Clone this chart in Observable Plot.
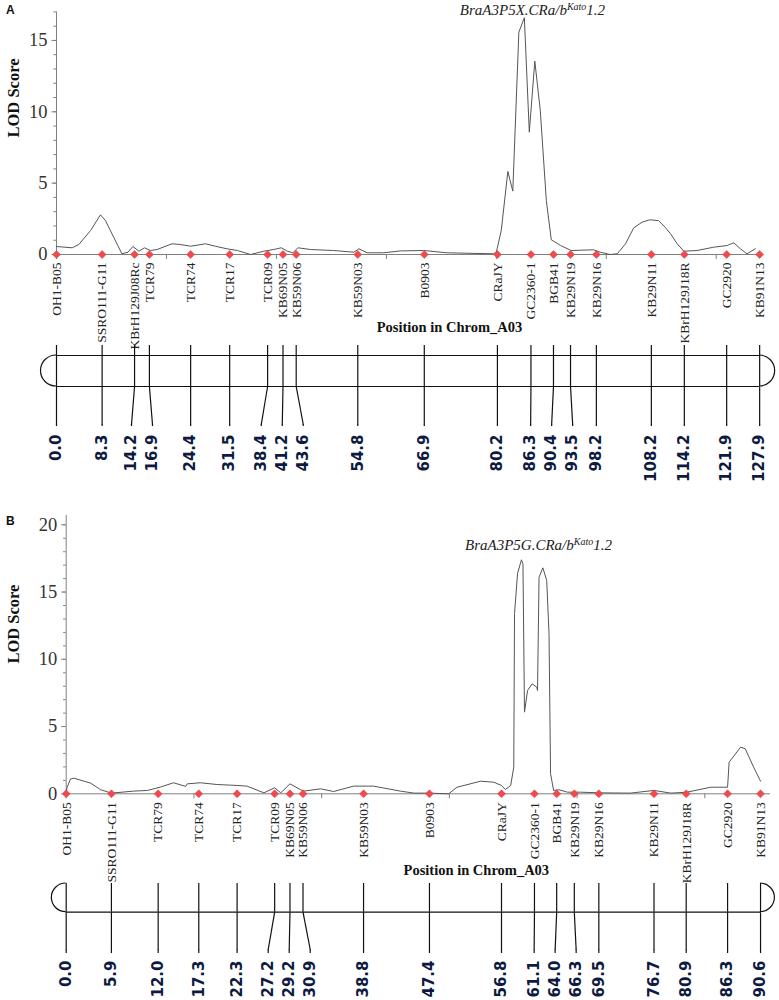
<!DOCTYPE html>
<html><head><meta charset="utf-8">
<script src="https://cdn.jsdelivr.net/npm/d3@7"></script>
<script src="https://cdn.jsdelivr.net/npm/@observablehq/plot@0.6"></script>
<style>
body{margin:0;background:#fff;}
#fig{position:relative;width:779px;height:1000px;overflow:hidden;background:#fff;}
.part{position:absolute;left:0;}
.plab{position:absolute;font:bold 12px/12px "Liberation Sans",Arial,sans-serif;color:#111;}
</style></head><body><div id="fig"></div>
<script>
// ---------------- DATA ----------------
const markersA = ["OH1-B05","SSRO111-G11","KBrH129J08Rc","TCR79","TCR74","TCR17","TCR09","KB69N05","KB59N06","KB59N03","B0903","CRaJY","GC2360-1","BGB41","KB29N19","KB29N16","KB29N11","KBrH129J18R","GC2920","KB91N13"];
const posA = [0.0,8.3,14.2,16.9,24.4,31.5,38.4,41.2,43.6,54.8,66.9,80.2,86.3,90.4,93.5,98.2,108.2,114.2,121.9,127.9];
const cmA = [0,2.85,4.06,6.2,8.0,8.9,10.4,11.9,13.0,13.9,15.0,16.0,17.1,18.3,21.0,22.5,24.4,27.1,28.9,31.0,32.9,35.3,37.7,39.5,40.9,42.0,43.0,43.9,46.2,50.4,54.1,55.0,56.5,59.5,62.6,66.8,71.0,79.5,80.0,80.9,82.1,83.0,84.1,85.1,86.0,87.0,88.0,89.1,90.0,91.7,93.6,97.7,98.9,100.7,102.0,103.5,105.0,106.5,107.9,109.5,110.7,111.7,112.9,114.1,116.5,119.5,122.0,123.2,124.4,125.6,127.1];
const lodA = [0.56,0.47,0.7,1.68,2.78,2.38,1.21,0.05,0.16,0.56,0.23,0.47,0.28,0.35,0.75,0.7,0.58,0.75,0.58,0.4,0.28,0.0,0.23,0.35,0.47,0.23,0.12,0.47,0.35,0.28,0.16,0.4,0.12,0.12,0.25,0.28,0.12,0.05,0.16,1.68,5.82,4.44,15.58,16.59,8.57,13.55,10.09,3.78,1.03,0.63,0.28,0.33,0.16,0.0,0.05,0.75,1.87,2.26,2.43,2.38,1.91,1.45,0.75,0.23,0.28,0.51,0.63,0.82,0.4,0.05,0.4];
const titleA = ["BraA3P5X.CRa/b","Kato","1.2"];
const yTicksA = [0,5,10,15];

const markersB = ["OH1-B05","SSRO111-G11","TCR79","TCR74","TCR17","TCR09","KB69N05","KB59N06","KB59N03","B0903","CRaJY","GC2360-1","BGB41","KB29N19","KB29N16","KB29N11","KBrH129J18R","GC2920","KB91N13"];
const posB = [0.0,5.9,12.0,17.3,22.3,27.2,29.2,30.9,38.8,47.4,56.8,61.1,64.0,66.3,69.5,76.7,80.9,86.3,90.6];
const cmB = [0,0.1,0.56,1.0,3.2,4.5,5.9,8.8,10.6,12.3,14.0,15.6,15.8,17.5,19.7,22.3,23.6,25.8,27.2,28.0,29.2,30.6,31.0,33.2,34.9,37.5,40.1,43.6,45.4,47.4,49.9,51.0,54.1,55.8,56.8,57.3,58.0,58.4,58.5,58.9,59.4,59.6,59.8,60.2,60.8,61.4,61.5,61.7,62.2,62.7,63.0,63.2,63.6,64.3,65.4,67.1,69.7,73.6,76.7,78.9,81.0,84.1,86.3,86.5,88.0,88.6,89.7,90.6];
const lodB = [0.0,0.45,1.1,1.16,0.79,0.3,0.05,0.2,0.25,0.5,0.82,0.55,0.74,0.82,0.69,0.62,0.57,0.07,0.45,0.07,0.74,0.3,0.2,0.37,0.17,0.57,0.57,0.2,0.05,0.05,0.0,0.49,0.94,0.86,0.62,0.32,0.62,1.98,13.4,16.4,17.4,17.1,6.07,7.68,8.18,7.93,7.68,16.1,16.8,15.86,11.9,1.49,0.25,0.3,0.12,0.12,0.07,0.05,0.25,0.05,0.12,0.49,0.49,2.35,3.47,3.35,1.98,0.94];
const titleB = ["BraA3P5G.CRa/b","Kato","1.2"];
const yTicksB = [0,5,10,15,20];

const axisTitle = "Position in Chrom_A03";
const yTitle = "LOD Score";

// ---------------- STYLE / LAYOUT ----------------
const AX = "#808080", CURVE = "#555", RED = "#ef4a4f", INK = "#111";
const SERIF = '"Liberation Serif","Times New Roman",serif';
const SANS = '"DejaVu Sans",Verdana,sans-serif';
const W = 779;

const panels = [
  {id:"A", markers:markersA, pos:posA, cm:cmA, lod:lodA, title:titleA, yTicks:yTicksA,
   top:0, lodH:340, y0:254, mt:11.4, yMax:17, ml:56, mr:16, xMax:128.6, xTicks:d3.range(0,128,20),
   nameDy:8, posDx:39.5, posDy:73, lodDx:-43, lodDy:4.3, titleIdx:12, titleY:16.8, titleDx:1.5, labTop:3.8,
   chTop:340, chH:160, lineTop:5, boxTop:15, boxBottom:46, lineEnd:86, bend:84, labelY:94, drawBoxTop:true},
  {id:"B", markers:markersB, pos:posB, cm:cmB, lod:lodB, title:titleB, yTicks:yTicksB,
   top:500, lodH:380, y0:293.3, mt:14.9, yMax:20.7, ml:65.7, mr:9, xMax:91.9, xTicks:[0,50/3,100/3,50,200/3,250/3],
   nameDy:8.4, posDx:58, posDy:76.7, lodDx:-52.7, lodDy:9, titleIdx:11, titleY:18.16, titleDx:4, labTop:515,
   chTop:880, chH:120, lineTop:3, boxTop:3, boxBottom:31.7, lineEnd:73, bend:69, labelY:80, drawBoxTop:false}
];

// spread label positions so that neighbours are at least `gap` apart (in data units)
function spread(pos, gap) {
  let cl = pos.map((p) => ({items:[p]}));
  const place = (c) => {
    const m = d3.mean(c.items), n = c.items.length;
    return c.items.map((_, j) => m + (j - (n - 1) / 2) * gap);
  };
  let merged = true;
  while (merged) {
    merged = false;
    for (let i = 0; i < cl.length - 1; i++) {
      const a = place(cl[i]), b = place(cl[i + 1]);
      if (b[0] - a[a.length - 1] < gap - 1e-9) {
        cl.splice(i, 2, {items: cl[i].items.concat(cl[i + 1].items)});
        merged = true; break;
      }
    }
  }
  return cl.flatMap(place);
}

const fig = document.getElementById("fig");
const NS = "http://www.w3.org/2000/svg";

for (const p of panels) {
  const curve = p.cm.map((x, i) => ({x, y: p.lod[i]}));
  const mk = p.markers.map((name, i) => ({name, pos: p.pos[i]}));
  const k = (W - p.ml - p.mr) / p.xMax;
  const lp = spread(p.pos, 21 / k);
  mk.forEach((d, i) => d.labelPos = lp[i]);
  const titleText = p.title.join("");

  const lodSvg = Plot.plot({
    width: W, height: p.lodH,
    marginLeft: p.ml, marginRight: p.mr, marginTop: p.mt, marginBottom: p.lodH - p.y0,
    x: {domain: [0, p.xMax]},
    y: {domain: [0, p.yMax]},
    style: {background: "transparent", overflow: "visible"},
    marks: [
      Plot.ruleX([0], {y1: 0, y2: p.yMax, stroke: AX}),
      Plot.axisY({ticks: d3.range(0, Math.floor(p.yMax) + 1), tickSize: 2.6, tickFormat: () => "", stroke: AX, label: null}),
      Plot.axisY({ticks: p.yTicks, tickSize: 4.5, tickFormat: () => "", stroke: AX, label: null}),
      Plot.text(p.yTicks, {frameAnchor: "left", y: (d) => d, text: (d) => String(d), dx: -9, textAnchor: "end", fontFamily: SERIF, fontSize: 18.5, fill: "#333"}),
      Plot.ruleY([0], {x1: 0, x2: p.xMax, stroke: AX}),
      Plot.axisX({ticks: p.xTicks, tickSize: 5, tickFormat: () => "", stroke: AX, label: null}),
      Plot.line(curve, {x: "x", y: "y", stroke: CURVE, strokeWidth: 1}),
      Plot.dot(mk, {x: "pos", y: () => 0, symbol: "diamond2", r: 3.6, fill: RED, stroke: "#e03a40", strokeWidth: 0.5}),
      Plot.text(mk, {x: "pos", y: () => 0, text: "name", rotate: -90, textAnchor: "end", dy: p.nameDy, fontFamily: SERIF, fontSize: 13.5, fill: "#222"}),
      Plot.text([axisTitle], {frameAnchor: "bottom", text: (d) => d, dx: p.posDx, dy: p.posDy, fontFamily: SERIF, fontWeight: "bold", fontSize: 14.5, fill: "#111", lineAnchor: "middle"}),
      Plot.text([yTitle], {frameAnchor: "left", text: (d) => d, rotate: -90, dx: p.lodDx, dy: p.lodDy, fontFamily: SERIF, fontWeight: "bold", fontSize: 16.5, fill: "#111"}),
      Plot.text([titleText], {x: () => p.pos[p.titleIdx], y: () => p.titleY, text: (d) => d, dx: p.titleDx, lineAnchor: "bottom", fontFamily: SERIF, fontStyle: "italic", fontSize: 15, fill: "#222"})
    ]
  });
  // superscript for the QTL name
  lodSvg.querySelectorAll("text").forEach((t) => {
    if (t.textContent === titleText) {
      t.textContent = "";
      const a = document.createElementNS(NS, "tspan"); a.textContent = p.title[0];
      const s = document.createElementNS(NS, "tspan"); s.textContent = p.title[1]; s.setAttribute("font-size", "10"); s.setAttribute("dy", "-5");
      const c = document.createElementNS(NS, "tspan"); c.textContent = p.title[2]; c.setAttribute("dy", "5");
      t.append(a, s, c);
    }
  });
  lodSvg.classList.add("part");
  lodSvg.style.top = p.top + "px";
  fig.appendChild(lodSvg);

  const last = d3.max(p.pos);
  const capMark = (index, scales) => {
    const g = document.createElementNS(NS, "g");
    const x0 = scales.x(0), x1 = scales.x(last);
    const yt = scales.y(p.boxTop), yb = scales.y(p.boxBottom), r = (yb - yt) / 2;
    const path = document.createElementNS(NS, "path");
    path.setAttribute("d", `M${x0},${yt}A${r},${r} 0 0 0 ${x0},${yb}M${x1},${yt}A${r},${r} 0 0 1 ${x1},${yb}`);
    path.setAttribute("fill", "none"); path.setAttribute("stroke", INK); path.setAttribute("stroke-width", "1.2");
    g.appendChild(path);
    return g;
  };

  const chSvg = Plot.plot({
    width: W, height: p.chH,
    marginLeft: p.ml, marginRight: p.mr, marginTop: 0, marginBottom: 0,
    x: {domain: [0, p.xMax], axis: null},
    y: {domain: [0, p.chH], range: [0, p.chH], axis: null},
    style: {background: "transparent", overflow: "visible"},
    marks: [
      p.drawBoxTop ? Plot.ruleY([p.boxTop], {x1: 0, x2: last, stroke: INK, strokeWidth: 1.2}) : null,
      Plot.ruleY([p.boxBottom], {x1: 0, x2: last, stroke: INK, strokeWidth: 1.2}),
      capMark,
      Plot.ruleX(mk, {x: "pos", y1: () => p.lineTop, y2: () => p.boxBottom, stroke: INK, strokeWidth: 1.2}),
      Plot.link(mk, {x1: "pos", x2: "labelPos", y1: () => p.boxBottom, y2: () => p.bend, stroke: INK, strokeWidth: 1.2}),
      Plot.ruleX(mk, {x: "labelPos", y1: () => p.bend, y2: () => p.lineEnd, stroke: INK, strokeWidth: 1.2}),
      Plot.text(mk, {x: "labelPos", y: () => p.labelY, text: (d) => d.pos.toFixed(1), rotate: -90, textAnchor: "end", fontFamily: SANS, fontWeight: "bold", fontSize: 15, fill: "#0e1a40"})
    ]
  });
  chSvg.classList.add("part");
  chSvg.style.top = p.chTop + "px";
  fig.appendChild(chSvg);

  const lab = document.createElement("div");
  lab.className = "plab"; lab.textContent = p.id;
  lab.style.left = "6px"; lab.style.top = p.labTop + "px";
  fig.appendChild(lab);
}
</script>
</body></html>
